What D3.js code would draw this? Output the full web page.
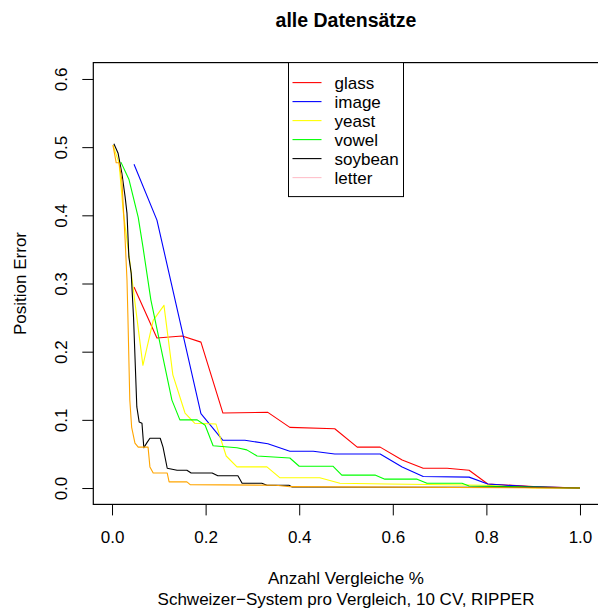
<!DOCTYPE html>
<html><head><meta charset="utf-8">
<script src="https://cdn.jsdelivr.net/npm/d3@7"></script>
<style>body{margin:0;background:#fff}svg{display:block}text{font-family:"Liberation Sans",Arial,Helvetica,sans-serif}</style>
</head><body>
<script>
const seriesNames = ["glass","image","yeast","vowel","soybean","letter"];
const lineColors = ["#FF0000","#0000FF","#FFFF00","#00FF00","#000000","#FFA500"];
const legendColors = ["#FF0000","#0000FF","#FFFF00","#00FF00","#000000","#FFC0CB"];

const glassX = [0.047,0.096,0.150,0.190,0.237,0.333,0.380,0.476,0.524,0.573,0.620,0.665,0.716,0.763,0.803,0.90,1.0];
const glassY = [0.295,0.220,0.223,0.214,0.110,0.111,0.089,0.087,0.060,0.060,0.041,0.029,0.029,0.026,0.006,0.002,0.0];

const imageX = [0.047,0.096,0.190,0.237,0.284,0.333,0.380,0.430,0.476,0.573,0.620,0.665,0.763,0.803,0.89,1.0];
const imageY = [0.475,0.393,0.109,0.070,0.070,0.065,0.054,0.054,0.050,0.050,0.031,0.017,0.016,0.006,0.002,0.0];

const yeastX = [0.002,0.015,0.024,0.038,0.066,0.088,0.111,0.130,0.156,0.177,0.222,0.244,0.267,0.331,0.359,0.444,0.487,0.588,0.80,0.90,1.0];
const yeastY = [0.503,0.477,0.405,0.332,0.180,0.246,0.268,0.166,0.110,0.095,0.094,0.047,0.031,0.031,0.015,0.015,0.007,0.006,0.004,0.0,0.0];

const vowelX = [0.019,0.036,0.056,0.066,0.083,0.128,0.145,0.182,0.199,0.216,0.267,0.288,0.310,0.380,0.400,0.472,0.491,0.562,0.583,0.652,0.673,0.748,0.763,0.85,1.0];
const vowelY = [0.478,0.453,0.397,0.354,0.276,0.129,0.100,0.100,0.092,0.062,0.059,0.056,0.047,0.044,0.032,0.032,0.019,0.019,0.013,0.013,0.007,0.007,0.003,0.002,0.0];

const soybeanX = [0.004,0.013,0.021,0.028,0.032,0.036,0.041,0.046,0.053,0.058,0.064,0.068,0.075,0.081,0.103,0.109,0.118,0.139,0.160,0.169,0.214,0.226,0.269,0.278,0.320,0.331,0.378,0.385,0.90,1.0];
const soybeanY = [0.505,0.491,0.462,0.427,0.403,0.339,0.315,0.250,0.119,0.097,0.095,0.059,0.067,0.073,0.073,0.060,0.029,0.026,0.026,0.022,0.022,0.018,0.018,0.007,0.007,0.004,0.004,0.0015,0.001,0.0];

const letterX = [0.002,0.009,0.015,0.021,0.028,0.032,0.034,0.038,0.042,0.049,0.056,0.077,0.081,0.088,0.118,0.122,0.160,0.167,0.350,0.380,1.0];
const letterY = [0.503,0.477,0.477,0.452,0.364,0.305,0.250,0.129,0.089,0.066,0.060,0.060,0.031,0.022,0.022,0.009,0.009,0.005,0.004,0.002,0.0];

const xTicks = [0,0.2,0.4,0.6,0.8,1.0];
const yTicks = [0,0.1,0.2,0.3,0.4,0.5,0.6];

const titleText = "alle Datensätze";
const xLabel = "Anzahl Vergleiche %";
const subLabel = "Schweizer\u2212System pro Vergleich, 10 CV, RIPPER";
const yLabel = "Position Error";

const W = 598, H = 612;
const plot = {left: 93.3, right: 598.7, top: 62.6, bottom: 504.4};
const fs = 17;

const xs = [glassX,imageX,yeastX,vowelX,soybeanX,letterX];
const ys = [glassY,imageY,yeastY,vowelY,soybeanY,letterY];

const x = d3.scaleLinear().domain([-0.04,1.04]).range([plot.left, plot.right]);
const y = d3.scaleLinear().domain([-0.024,0.624]).range([plot.bottom, plot.top]);

const svg = d3.select("body").append("svg").attr("width",W).attr("height",H);

const line = d3.line().x(d=>x(d[0])).y(d=>y(d[1]));
seriesNames.forEach((n,i)=>{
  const pts = xs[i].map((v,j)=>[v, ys[i][j]]);
  svg.append("path").datum(pts).attr("d",line).attr("fill","none")
    .attr("stroke",lineColors[i]).attr("stroke-width",1.1).attr("stroke-linejoin","round");
});

// axes
const ax = svg.append("g").attr("transform",`translate(0,${plot.bottom})`)
  .call(d3.axisBottom(x).tickValues(xTicks).tickSize(11).tickSizeOuter(0).tickFormat(d3.format(".1f")));
ax.select(".domain").remove();
ax.selectAll("text").attr("font-size",fs).attr("font-family","Liberation Sans, Arial, sans-serif").attr("fill","#000").attr("y",27).attr("dy","0.71em");
ax.selectAll("line").attr("stroke","#000");

const ay = svg.append("g").attr("transform",`translate(${plot.left},0)`)
  .call(d3.axisLeft(y).tickValues(yTicks).tickSize(11).tickSizeOuter(0).tickFormat(d3.format(".1f")));
ay.select(".domain").remove();
ay.selectAll("text").attr("font-size",fs).attr("font-family","Liberation Sans, Arial, sans-serif").attr("fill","#000")
  .attr("x",null).attr("dy",null).attr("text-anchor","middle")
  .attr("transform","translate(-26,0) rotate(-90)");
ay.selectAll("line").attr("stroke","#000");

// box
svg.append("rect").attr("x",plot.left).attr("y",plot.top)
  .attr("width",plot.right-plot.left).attr("height",plot.bottom-plot.top)
  .attr("fill","none").attr("stroke","#000").attr("stroke-width",1.2);

// title & labels
const cx = (plot.left+plot.right)/2;
svg.append("text").attr("x",cx).attr("y",27).attr("text-anchor","middle")
  .attr("font-size",19.5).attr("font-weight","bold").text(titleText);
svg.append("text").attr("x",cx).attr("y",584).attr("text-anchor","middle").attr("font-size",fs).text(xLabel);
svg.append("text").attr("x",cx).attr("y",605).attr("text-anchor","middle").attr("font-size",fs).text(subLabel);
svg.append("text").attr("transform",`translate(26,${(plot.top+plot.bottom)/2}) rotate(-90)`)
  .attr("text-anchor","middle").attr("font-size",fs).text(yLabel);

// legend
const lgW = 115, lgH = 134;
const lgX = cx - lgW/2, lgY = plot.top;
const lg = svg.append("g");
lg.append("rect").attr("x",lgX).attr("y",lgY).attr("width",lgW).attr("height",lgH)
  .attr("fill","#fff").attr("stroke","#000").attr("stroke-width",1);
seriesNames.forEach((n,i)=>{
  const yy = lgY + 20 + i*19;
  lg.append("line").attr("x1",lgX+4).attr("x2",lgX+33).attr("y1",yy).attr("y2",yy)
    .attr("stroke",legendColors[i]).attr("stroke-width",1.1);
  lg.append("text").attr("x",lgX+46).attr("y",yy).attr("dy","0.35em").attr("font-size",fs).text(n);
});
</script>
</body></html>
